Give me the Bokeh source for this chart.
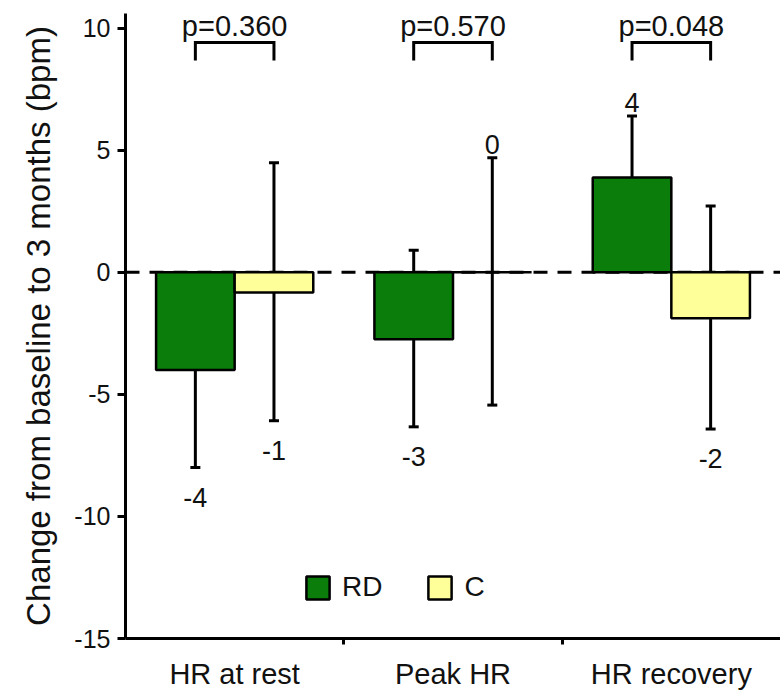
from bokeh.plotting import figure
from bokeh.models import (ColumnDataSource, Whisker, TeeHead, Span, Legend,
                          LegendItem, FixedTicker, Range1d)
from bokeh.embed import file_html
from bokeh.resources import INLINE
from bokeh.core.properties import value

# ---- data ----
categories = ["HR at rest", "Peak HR", "HR recovery"]
rd_mean = [-4.0, -2.74, 3.88]
rd_low = [-8.0, -6.33, 1.42]
rd_high = [-0.72, 0.9, 6.4]
c_mean = [-0.83, 0.0, -1.88]
c_low = [-6.08, -5.44, -6.42]
c_high = [4.49, 4.69, 2.72]
p_values = ["p=0.360", "p=0.570", "p=0.048"]
y_ticks = [-15, -10, -5, 0, 5, 10]
series_names = ["RD", "C"]

# ---- style ----
FONT = "Liberation Sans"
GREEN = "#0a7d0a"
YELLOW = "#ffff99"
OFF = 0.18
BAR_W = 0.36
BR_TOP = 9.41
BR_LEG = 8.67

pos = list(range(1, len(categories) + 1))

p = figure(width=780, height=693, x_range=Range1d(0.5, 3.5),
           y_range=Range1d(-15, 10.6), output_backend="svg",
           toolbar_location=None, min_border_left=125, min_border_right=0,
           min_border_top=13, min_border_bottom=55)
p.grid.visible = False
p.outline_line_color = None
p.background_fill_color = "white"

# zero dashed line
zero = Span(location=0, dimension="width", line_color="black",
            line_width=3, line_dash="14 10", level="underlay")
p.add_layout(zero)

rd_src = ColumnDataSource(dict(x=[c - OFF for c in pos], top=rd_mean,
                               lo=rd_low, hi=rd_high))
c_src = ColumnDataSource(dict(x=[c + OFF for c in pos], top=c_mean,
                              lo=c_low, hi=c_high))

r_rd = p.vbar(x="x", top="top", bottom=0, width=BAR_W, source=rd_src,
              fill_color=GREEN, line_color="black", line_width=2.5)
r_c = p.vbar(x="x", top="top", bottom=0, width=BAR_W, source=c_src,
             fill_color=YELLOW, line_color="black", line_width=2.5)

for src in (rd_src, c_src):
    w = Whisker(base="x", lower="lo", upper="hi", source=src,
                line_width=3, line_color="black",
                upper_head=TeeHead(size=10, line_width=3, line_color="black"),
                lower_head=TeeHead(size=10, line_width=3, line_color="black"))
    p.add_layout(w)

# value labels (rounded means) beyond the error bar ends
above = dict(x=[], y=[], t=[])
below = dict(x=[], y=[], t=[])
for xs, means, los, his in ((rd_src.data["x"], rd_mean, rd_low, rd_high),
                            (c_src.data["x"], c_mean, c_low, c_high)):
    for x, m, lo, hi in zip(xs, means, los, his):
        r = int(round(m))
        t = str(r) if r != 0 else "0"
        if m >= 0:
            above["x"].append(x); above["y"].append(hi); above["t"].append(t)
        else:
            below["x"].append(x); below["y"].append(lo); below["t"].append(t)

p.text(x="x", y="y", text="t", source=ColumnDataSource(above),
       text_align="center", text_baseline="bottom", y_offset=-4,
       text_font=value(FONT), text_font_size="27px", text_color="#111111")
p.text(x="x", y="y", text="t", source=ColumnDataSource(below),
       text_align="center", text_baseline="top", y_offset=20,
       text_font=value(FONT), text_font_size="27px", text_color="#111111")

# p-value brackets
p.multi_line(xs=[[c - OFF, c - OFF, c + OFF, c + OFF] for c in pos],
             ys=[[BR_LEG, BR_TOP, BR_TOP, BR_LEG] for _ in pos],
             line_color="black", line_width=3, line_join="miter")
p.text(x=pos, y=[BR_TOP] * len(pos), text=p_values, text_align="center",
       text_baseline="bottom", y_offset=-1, text_font=value(FONT),
       text_font_size="29px", text_color="#111111")

# axes
p.yaxis.ticker = FixedTicker(ticks=y_ticks)
p.yaxis.major_label_overrides = {t: str(t) for t in y_ticks}
p.yaxis.axis_label = "Change from baseline to 3 months (bpm)"
p.yaxis.axis_label_text_font = FONT
p.yaxis.axis_label_text_font_size = "33px"
p.yaxis.axis_label_text_font_style = "normal"
p.yaxis.axis_label_text_color = "#111111"
p.yaxis.axis_label_standoff = 14
p.yaxis.major_label_text_font = FONT
p.yaxis.major_label_text_font_size = "25px"
p.yaxis.major_label_text_color = "#111111"
p.yaxis.major_label_standoff = 7
p.yaxis.axis_line_width = 3
p.yaxis.major_tick_line_width = 3
p.yaxis.major_tick_out = 8
p.yaxis.major_tick_in = 0
p.yaxis.minor_tick_line_color = None

p.xaxis.ticker = FixedTicker(ticks=pos,
                             minor_ticks=[c + 0.5 for c in pos[:-1]])
p.xaxis.major_label_overrides = {c: name for c, name in zip(pos, categories)}
p.xaxis.major_label_text_font = FONT
p.xaxis.major_label_text_font_size = "29px"
p.xaxis.major_label_text_color = "#111111"
p.xaxis.major_label_standoff = 13
p.xaxis.axis_line_width = 3
p.xaxis.major_tick_out = 0
p.xaxis.major_tick_in = 0
p.xaxis.minor_tick_line_width = 3
p.xaxis.minor_tick_out = 6
p.xaxis.minor_tick_in = 0

legend = Legend(items=[LegendItem(label=series_names[0], renderers=[r_rd]),
                       LegendItem(label=series_names[1], renderers=[r_c])],
                orientation="horizontal", location=(178, 35),
                padding=0, margin=0, spacing=43, label_standoff=10,
                glyph_width=29, glyph_height=29,
                border_line_alpha=0, background_fill_alpha=0,
                label_text_font=FONT, label_text_font_size="28px",
                label_text_color="#111111")
p.add_layout(legend)

open("out.html", "w").write(file_html(p, INLINE))
